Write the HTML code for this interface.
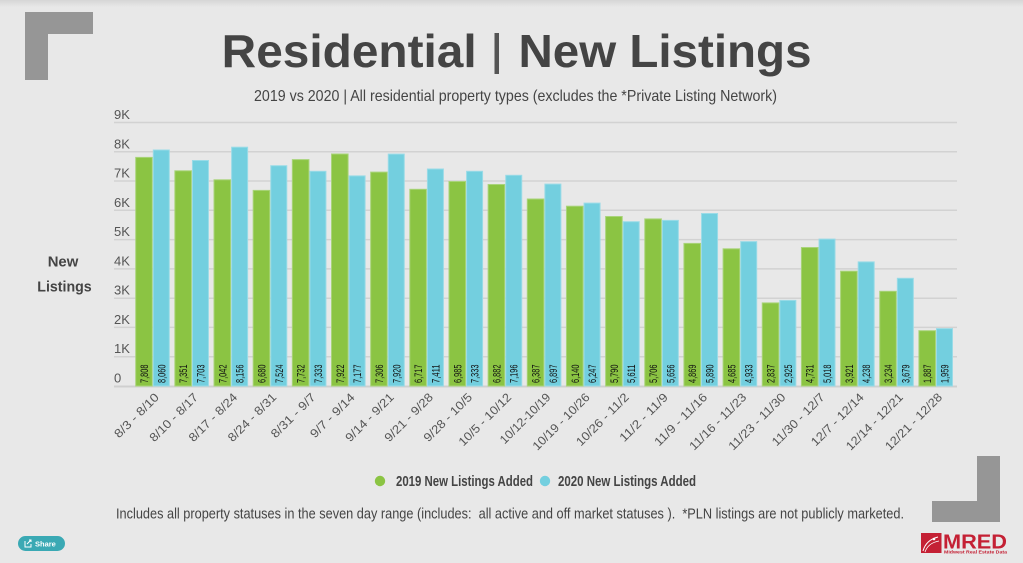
<!DOCTYPE html>
<html><head><meta charset="utf-8"><style>
html,body{margin:0;padding:0;background:#e8e8e8;}
svg{display:block;}
</style></head><body>
<svg width="1023" height="563" viewBox="0 0 1023 563" xmlns="http://www.w3.org/2000/svg" font-family="'Liberation Sans Narrow','Liberation Sans',sans-serif">
<defs>
<linearGradient id="topsh" x1="0" y1="0" x2="0" y2="1">
<stop offset="0" stop-color="#d6d6d6"/><stop offset="1" stop-color="#e8e8e8"/>
</linearGradient>
</defs>
<rect width="1023" height="563" fill="#e8e8e8"/>
<rect width="1023" height="7" fill="url(#topsh)"/>

<!-- corner brackets -->
<path d="M25 12 H93 V34 H48 V80 H25 Z" fill="#969696"/>
<path d="M1000 456 V522 H932 V501 H977 V456 Z" fill="#969696"/>

<!-- title -->
<text x="221.7" y="67" font-family="'Liberation Sans',sans-serif" font-weight="bold" font-size="46" fill="#444" textLength="255" lengthAdjust="spacingAndGlyphs">Residential</text>
<rect x="494.5" y="33" width="4.5" height="41" fill="#555"/>
<text x="518.5" y="67" font-family="'Liberation Sans',sans-serif" font-weight="bold" font-size="46" fill="#444" textLength="293" lengthAdjust="spacingAndGlyphs">New Listings</text>
<text x="254" y="101" font-size="16" fill="#444" textLength="523" lengthAdjust="spacingAndGlyphs">2019 vs 2020 | All residential property types (excludes the *Private Listing Network)</text>

<!-- y axis title -->
<text x="47.7" y="266.7" font-family="'Liberation Sans',sans-serif" font-weight="bold" font-size="15" fill="#444" textLength="30.6" lengthAdjust="spacingAndGlyphs">New</text>
<text x="37.3" y="291.7" font-family="'Liberation Sans',sans-serif" font-weight="bold" font-size="15" fill="#444" textLength="54.4" lengthAdjust="spacingAndGlyphs">Listings</text>

<!-- gridlines -->
<g stroke="#d2d2d2" stroke-width="1.5">
<line x1="114" x2="957" y1="122.5" y2="122.5"/>
<line x1="114" x2="957" y1="151.8" y2="151.8"/>
<line x1="114" x2="957" y1="181.0" y2="181.0"/>
<line x1="114" x2="957" y1="210.3" y2="210.3"/>
<line x1="114" x2="957" y1="239.6" y2="239.6"/>
<line x1="114" x2="957" y1="268.9" y2="268.9"/>
<line x1="114" x2="957" y1="298.2" y2="298.2"/>
<line x1="114" x2="957" y1="327.4" y2="327.4"/>
<line x1="114" x2="957" y1="356.7" y2="356.7"/>
</g>
<line x1="114" x2="957" y1="386.5" y2="386.5" stroke="#cfcfcf" stroke-width="2"/>

<!-- y labels -->
<g font-size="13" fill="#555">
<text x="114" y="119">9K</text>
<text x="114" y="148.3">8K</text>
<text x="114" y="177.5">7K</text>
<text x="114" y="206.8">6K</text>
<text x="114" y="236.1">5K</text>
<text x="114" y="265.4">4K</text>
<text x="114" y="294.7">3K</text>
<text x="114" y="323.9">2K</text>
<text x="114" y="353.2">1K</text>
<text x="114" y="382.5">0</text>
</g>

<!-- bars 2019 -->
<g fill="#8bc443" stroke="#a9d47a" stroke-width="1">
<rect x="135.7" y="157.4" width="16.6" height="228.6"/>
<rect x="174.86" y="170.8" width="16.6" height="215.2"/>
<rect x="214.02" y="179.8" width="16.6" height="206.2"/>
<rect x="253.18" y="190.4" width="16.6" height="195.6"/>
<rect x="292.34" y="159.6" width="16.6" height="226.4"/>
<rect x="331.5" y="154.0" width="16.6" height="232.0"/>
<rect x="370.66" y="172.1" width="16.6" height="213.9"/>
<rect x="409.82" y="189.3" width="16.6" height="196.7"/>
<rect x="448.98" y="181.5" width="16.6" height="204.5"/>
<rect x="488.14" y="184.5" width="16.6" height="201.5"/>
<rect x="527.3" y="199.0" width="16.6" height="187.0"/>
<rect x="566.46" y="206.2" width="16.6" height="179.8"/>
<rect x="605.62" y="216.5" width="16.6" height="169.5"/>
<rect x="644.78" y="218.9" width="16.6" height="167.1"/>
<rect x="683.94" y="243.4" width="16.6" height="142.6"/>
<rect x="723.1" y="248.8" width="16.6" height="137.2"/>
<rect x="762.26" y="302.9" width="16.6" height="83.1"/>
<rect x="801.42" y="247.5" width="16.6" height="138.5"/>
<rect x="840.58" y="271.2" width="16.6" height="114.8"/>
<rect x="879.74" y="291.3" width="16.6" height="94.7"/>
<rect x="918.9" y="330.7" width="16.6" height="55.3"/>
</g>
<!-- bars 2020 -->
<g fill="#73cfdf" stroke="#9adbe7" stroke-width="1">
<rect x="153.3" y="150.0" width="16" height="236.0"/>
<rect x="192.46" y="160.5" width="16" height="225.5"/>
<rect x="231.62" y="147.2" width="16" height="238.8"/>
<rect x="270.78" y="165.7" width="16" height="220.3"/>
<rect x="309.94" y="171.3" width="16" height="214.7"/>
<rect x="349.1" y="175.9" width="16" height="210.1"/>
<rect x="388.26" y="154.1" width="16" height="231.9"/>
<rect x="427.42" y="169.0" width="16" height="217.0"/>
<rect x="466.58" y="171.3" width="16" height="214.7"/>
<rect x="505.74" y="175.3" width="16" height="210.7"/>
<rect x="544.9" y="184.1" width="16" height="201.9"/>
<rect x="584.06" y="203.1" width="16" height="182.9"/>
<rect x="623.22" y="221.7" width="16" height="164.3"/>
<rect x="662.38" y="220.4" width="16" height="165.6"/>
<rect x="701.54" y="213.5" width="16" height="172.5"/>
<rect x="740.7" y="241.6" width="16" height="144.4"/>
<rect x="779.86" y="300.4" width="16" height="85.6"/>
<rect x="819.02" y="239.1" width="16" height="146.9"/>
<rect x="858.18" y="261.9" width="16" height="124.1"/>
<rect x="897.34" y="278.3" width="16" height="107.7"/>
<rect x="936.5" y="328.6" width="16" height="57.4"/>
</g>

<!-- value labels -->
<g font-size="11" fill="#111">
<text transform="translate(148,383) rotate(-90)" textLength="18.5" lengthAdjust="spacingAndGlyphs">7,808</text>
<text transform="translate(165.3,383) rotate(-90)" textLength="18.5" lengthAdjust="spacingAndGlyphs">8,060</text>
<text transform="translate(187.2,383) rotate(-90)" textLength="18.5" lengthAdjust="spacingAndGlyphs">7,351</text>
<text transform="translate(204.5,383) rotate(-90)" textLength="18.5" lengthAdjust="spacingAndGlyphs">7,703</text>
<text transform="translate(226.3,383) rotate(-90)" textLength="18.5" lengthAdjust="spacingAndGlyphs">7,042</text>
<text transform="translate(243.6,383) rotate(-90)" textLength="18.5" lengthAdjust="spacingAndGlyphs">8,156</text>
<text transform="translate(265.5,383) rotate(-90)" textLength="18.5" lengthAdjust="spacingAndGlyphs">6,680</text>
<text transform="translate(282.8,383) rotate(-90)" textLength="18.5" lengthAdjust="spacingAndGlyphs">7,524</text>
<text transform="translate(304.6,383) rotate(-90)" textLength="18.5" lengthAdjust="spacingAndGlyphs">7,732</text>
<text transform="translate(321.9,383) rotate(-90)" textLength="18.5" lengthAdjust="spacingAndGlyphs">7,333</text>
<text transform="translate(343.8,383) rotate(-90)" textLength="18.5" lengthAdjust="spacingAndGlyphs">7,922</text>
<text transform="translate(361.1,383) rotate(-90)" textLength="18.5" lengthAdjust="spacingAndGlyphs">7,177</text>
<text transform="translate(383,383) rotate(-90)" textLength="18.5" lengthAdjust="spacingAndGlyphs">7,306</text>
<text transform="translate(400.3,383) rotate(-90)" textLength="18.5" lengthAdjust="spacingAndGlyphs">7,920</text>
<text transform="translate(422.1,383) rotate(-90)" textLength="18.5" lengthAdjust="spacingAndGlyphs">6,717</text>
<text transform="translate(439.4,383) rotate(-90)" textLength="18.5" lengthAdjust="spacingAndGlyphs">7,411</text>
<text transform="translate(461.3,383) rotate(-90)" textLength="18.5" lengthAdjust="spacingAndGlyphs">6,985</text>
<text transform="translate(478.6,383) rotate(-90)" textLength="18.5" lengthAdjust="spacingAndGlyphs">7,333</text>
<text transform="translate(500.4,383) rotate(-90)" textLength="18.5" lengthAdjust="spacingAndGlyphs">6,882</text>
<text transform="translate(517.7,383) rotate(-90)" textLength="18.5" lengthAdjust="spacingAndGlyphs">7,196</text>
<text transform="translate(539.6,383) rotate(-90)" textLength="18.5" lengthAdjust="spacingAndGlyphs">6,387</text>
<text transform="translate(556.9,383) rotate(-90)" textLength="18.5" lengthAdjust="spacingAndGlyphs">6,897</text>
<text transform="translate(578.8,383) rotate(-90)" textLength="18.5" lengthAdjust="spacingAndGlyphs">6,140</text>
<text transform="translate(596.1,383) rotate(-90)" textLength="18.5" lengthAdjust="spacingAndGlyphs">6,247</text>
<text transform="translate(617.9,383) rotate(-90)" textLength="18.5" lengthAdjust="spacingAndGlyphs">5,790</text>
<text transform="translate(635.2,383) rotate(-90)" textLength="18.5" lengthAdjust="spacingAndGlyphs">5,611</text>
<text transform="translate(657.1,383) rotate(-90)" textLength="18.5" lengthAdjust="spacingAndGlyphs">5,706</text>
<text transform="translate(674.4,383) rotate(-90)" textLength="18.5" lengthAdjust="spacingAndGlyphs">5,656</text>
<text transform="translate(696.2,383) rotate(-90)" textLength="18.5" lengthAdjust="spacingAndGlyphs">4,869</text>
<text transform="translate(713.5,383) rotate(-90)" textLength="18.5" lengthAdjust="spacingAndGlyphs">5,890</text>
<text transform="translate(735.4,383) rotate(-90)" textLength="18.5" lengthAdjust="spacingAndGlyphs">4,685</text>
<text transform="translate(752.7,383) rotate(-90)" textLength="18.5" lengthAdjust="spacingAndGlyphs">4,933</text>
<text transform="translate(774.6,383) rotate(-90)" textLength="18.5" lengthAdjust="spacingAndGlyphs">2,837</text>
<text transform="translate(791.9,383) rotate(-90)" textLength="18.5" lengthAdjust="spacingAndGlyphs">2,925</text>
<text transform="translate(813.7,383) rotate(-90)" textLength="18.5" lengthAdjust="spacingAndGlyphs">4,731</text>
<text transform="translate(831,383) rotate(-90)" textLength="18.5" lengthAdjust="spacingAndGlyphs">5,018</text>
<text transform="translate(852.9,383) rotate(-90)" textLength="18.5" lengthAdjust="spacingAndGlyphs">3,921</text>
<text transform="translate(870.2,383) rotate(-90)" textLength="18.5" lengthAdjust="spacingAndGlyphs">4,238</text>
<text transform="translate(892,383) rotate(-90)" textLength="18.5" lengthAdjust="spacingAndGlyphs">3,234</text>
<text transform="translate(909.3,383) rotate(-90)" textLength="18.5" lengthAdjust="spacingAndGlyphs">3,679</text>
<text transform="translate(931.2,383) rotate(-90)" textLength="18.5" lengthAdjust="spacingAndGlyphs">1,887</text>
<text transform="translate(948.5,383) rotate(-90)" textLength="18.5" lengthAdjust="spacingAndGlyphs">1,959</text>
</g>

<!-- x labels -->
<g font-size="12" fill="#555" text-anchor="end">
<text transform="translate(159.7,398) rotate(-45)" textLength="57.5" lengthAdjust="spacingAndGlyphs">8/3 - 8/10</text>
<text transform="translate(198.86,398) rotate(-45)" textLength="63" lengthAdjust="spacingAndGlyphs">8/10 - 8/17</text>
<text transform="translate(238.02,398) rotate(-45)" textLength="63" lengthAdjust="spacingAndGlyphs">8/17 - 8/24</text>
<text transform="translate(277.18,398) rotate(-45)" textLength="63" lengthAdjust="spacingAndGlyphs">8/24 - 8/31</text>
<text transform="translate(316.34,398) rotate(-45)" textLength="57.5" lengthAdjust="spacingAndGlyphs">8/31 - 9/7</text>
<text transform="translate(355.5,398) rotate(-45)" textLength="57.5" lengthAdjust="spacingAndGlyphs">9/7 - 9/14</text>
<text transform="translate(394.66,398) rotate(-45)" textLength="63" lengthAdjust="spacingAndGlyphs">9/14 - 9/21</text>
<text transform="translate(433.82,398) rotate(-45)" textLength="63" lengthAdjust="spacingAndGlyphs">9/21 - 9/28</text>
<text transform="translate(472.98,398) rotate(-45)" textLength="63" lengthAdjust="spacingAndGlyphs">9/28 - 10/5</text>
<text transform="translate(512.14,398) rotate(-45)" textLength="69" lengthAdjust="spacingAndGlyphs">10/5 - 10/12</text>
<text transform="translate(551.3,398) rotate(-45)" textLength="66" lengthAdjust="spacingAndGlyphs">10/12-10/19</text>
<text transform="translate(590.46,398) rotate(-45)" textLength="75" lengthAdjust="spacingAndGlyphs">10/19 - 10/26</text>
<text transform="translate(629.62,398) rotate(-45)" textLength="69" lengthAdjust="spacingAndGlyphs">10/26 - 11/2</text>
<text transform="translate(668.78,398) rotate(-45)" textLength="63" lengthAdjust="spacingAndGlyphs">11/2 - 11/9</text>
<text transform="translate(707.94,398) rotate(-45)" textLength="69" lengthAdjust="spacingAndGlyphs">11/9 - 11/16</text>
<text transform="translate(747.1,398) rotate(-45)" textLength="75" lengthAdjust="spacingAndGlyphs">11/16 - 11/23</text>
<text transform="translate(786.26,398) rotate(-45)" textLength="75" lengthAdjust="spacingAndGlyphs">11/23 - 11/30</text>
<text transform="translate(825.42,398) rotate(-45)" textLength="69" lengthAdjust="spacingAndGlyphs">11/30 - 12/7</text>
<text transform="translate(864.58,398) rotate(-45)" textLength="69" lengthAdjust="spacingAndGlyphs">12/7 - 12/14</text>
<text transform="translate(903.74,398) rotate(-45)" textLength="75" lengthAdjust="spacingAndGlyphs">12/14 - 12/21</text>
<text transform="translate(942.9,398) rotate(-45)" textLength="75" lengthAdjust="spacingAndGlyphs">12/21 - 12/28</text>
</g>

<!-- legend -->
<circle cx="380" cy="481" r="5.2" fill="#8bc443"/>
<text x="396" y="486" font-weight="bold" font-size="15" fill="#444" textLength="137" lengthAdjust="spacingAndGlyphs">2019 New Listings Added</text>
<circle cx="545" cy="481" r="5.2" fill="#73cfdf"/>
<text x="558" y="486" font-weight="bold" font-size="15" fill="#444" textLength="138" lengthAdjust="spacingAndGlyphs">2020 New Listings Added</text>

<!-- footer -->
<text x="116" y="518.3" font-size="14.5" fill="#444" textLength="788" lengthAdjust="spacingAndGlyphs" xml:space="preserve">Includes all property statuses in the seven day range (includes:  all active and off market statuses ).  *PLN listings are not publicly marketed.</text>

<!-- share button -->
<rect x="18" y="536" width="47" height="15" rx="7.5" fill="#3aa9b4"/>
<path d="M25 541 V547 H31 V544" fill="none" stroke="#fff" stroke-width="1"/>
<path d="M27 544 L31 540 M29 540 H31 V542" fill="none" stroke="#fff" stroke-width="1"/>
<text x="35" y="546.5" font-family="'Liberation Sans',sans-serif" font-weight="bold" font-size="7.5" fill="#fff">Share</text>

<!-- MRED logo -->
<rect x="921" y="533" width="20.5" height="20" fill="#c42034"/>
<path d="M923 551 Q926 540 938 537" fill="none" stroke="#fff" stroke-width="1"/>
<path d="M925 552 Q928 543 939 541" fill="none" stroke="#fff" stroke-width="0.8"/>
<circle cx="934" cy="539" r="1.3" fill="#fff"/>
<text x="943" y="548.5" font-family="'Liberation Sans',sans-serif" font-weight="bold" font-size="20" fill="#c42034" textLength="64" lengthAdjust="spacingAndGlyphs">MRED</text>
<text x="944" y="553.5" font-family="'Liberation Sans',sans-serif" font-weight="bold" font-size="4.6" fill="#c42034" textLength="63" lengthAdjust="spacingAndGlyphs">Midwest Real Estate Data</text>
</svg>
</body></html>
